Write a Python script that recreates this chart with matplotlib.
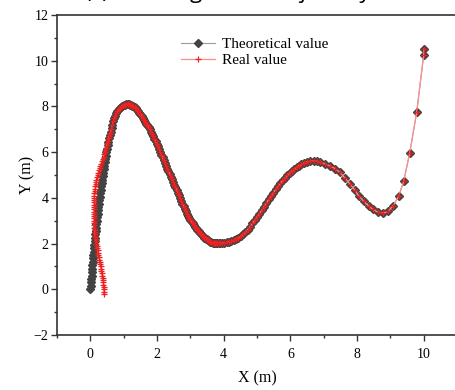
import matplotlib.pyplot as plt

# Theoretical trajectory
# steep rise, from the origin up to the first peak
rise_x = [0.00, 0.01, 0.02, 0.03, 0.04, 0.045, 0.05, 0.06, 0.07, 0.08, 0.09, 0.10,
          0.11, 0.12, 0.13, 0.14, 0.15, 0.16, 0.17, 0.18, 0.19, 0.205, 0.22, 0.23,
          0.24, 0.255, 0.27, 0.28, 0.29, 0.305, 0.32, 0.335, 0.35, 0.365, 0.38,
          0.395, 0.41, 0.43, 0.45, 0.465, 0.48, 0.50, 0.52, 0.54, 0.56, 0.585, 0.61,
          0.635, 0.66, 0.69, 0.72, 0.75, 0.78, 0.815, 0.85, 0.885, 0.92, 0.96, 1.00,
          1.04, 1.08, 1.115]
rise_y = [0.00, 0.15, 0.30, 0.45, 0.60, 0.75, 0.90, 1.05, 1.20, 1.35, 1.50, 1.65,
          1.80, 1.95, 2.10, 2.25, 2.40, 2.55, 2.70, 2.85, 3.00, 3.15, 3.30, 3.45,
          3.60, 3.75, 3.90, 4.05, 4.20, 4.35, 4.50, 4.65, 4.80, 4.95, 5.10,
          5.25, 5.40, 5.55, 5.70, 5.85, 6.00, 6.15, 6.30, 6.45, 6.60, 6.75, 6.90,
          7.05, 7.20, 7.35, 7.48, 7.60, 7.70, 7.80, 7.88, 7.94, 7.99, 8.03, 8.06,
          8.08, 8.09, 8.09]
# descent from the first peak to the valley near x = 3.9
fall_x = [1.15, 1.185, 1.22, 1.255, 1.29, 1.325, 1.36, 1.395, 1.43, 1.465, 1.50,
          1.535, 1.57, 1.605, 1.64, 1.675, 1.71, 1.745, 1.78, 1.815, 1.85, 1.885,
          1.92, 1.955, 1.99, 2.025, 2.06, 2.095, 2.13, 2.165, 2.20, 2.235, 2.27,
          2.305, 2.34, 2.375, 2.41, 2.445, 2.48, 2.515, 2.55, 2.585, 2.62, 2.655,
          2.69, 2.725, 2.76, 2.795, 2.83, 2.865, 2.90, 2.935, 2.97, 3.005, 3.04,
          3.075, 3.11, 3.145, 3.18, 3.215, 3.25, 3.285, 3.32, 3.355, 3.39, 3.425,
          3.46, 3.495, 3.53, 3.565, 3.60, 3.635, 3.67, 3.705, 3.74, 3.775, 3.81,
          3.845]
fall_y = [8.09, 8.08, 8.06, 8.03, 8.00, 7.96, 7.91, 7.85, 7.79, 7.73, 7.66,
          7.58, 7.50, 7.42, 7.33, 7.25, 7.17, 7.09, 7.00, 6.90, 6.80, 6.70,
          6.59, 6.48, 6.37, 6.25, 6.13, 6.01, 5.89, 5.77, 5.64, 5.52, 5.40,
          5.28, 5.16, 5.05, 4.93, 4.81, 4.69, 4.58, 4.46, 4.35, 4.23, 4.12,
          4.00, 3.88, 3.75, 3.64, 3.52, 3.41, 3.30, 3.21, 3.12, 3.04, 2.96,
          2.88, 2.81, 2.74, 2.67, 2.60, 2.54, 2.48, 2.42, 2.36, 2.31, 2.26,
          2.22, 2.18, 2.14, 2.11, 2.08, 2.06, 2.04, 2.03, 2.02, 2.015, 2.01,
          2.01]
# second hump and the final climb
tail_x = [3.88, 3.95, 4.02, 4.09, 4.16, 4.23, 4.30, 4.37, 4.44, 4.51, 4.58, 4.65,
          4.72, 4.79, 4.86, 4.93, 5.00, 5.07, 5.14, 5.21, 5.28, 5.35, 5.42, 5.49,
          5.56, 5.63, 5.70, 5.77, 5.84, 5.91, 5.98, 6.05, 6.12, 6.19, 6.26, 6.33,
          6.40, 6.50, 6.60, 6.70, 6.80, 6.90, 7.04, 7.19, 7.34, 7.49, 7.63, 7.78,
          7.93, 8.05, 8.20, 8.35, 8.47, 8.62, 8.77, 8.93, 9.07, 9.25, 9.40, 9.58,
          9.79, 10.00, 10.01]
tail_y = [2.01, 2.02, 2.03, 2.05, 2.07, 2.10, 2.14, 2.19, 2.25, 2.32, 2.40, 2.50,
          2.61, 2.74, 2.88, 3.02, 3.17, 3.31, 3.46, 3.62, 3.77, 3.93, 4.08, 4.23,
          4.37, 4.51, 4.64, 4.76, 4.88, 4.99, 5.09, 5.18, 5.27, 5.34, 5.41, 5.47,
          5.52, 5.57, 5.60, 5.61, 5.60, 5.57, 5.49, 5.40, 5.28, 5.11, 4.88, 4.62,
          4.35, 4.09, 3.85, 3.64, 3.50, 3.38, 3.33, 3.41, 3.63, 4.07, 4.72, 5.95,
          7.74, 10.24, 10.52]
theo_x = rise_x + fall_x + tail_x
theo_y = rise_y + fall_y + tail_y

# Real trajectory: its own start, then it lies on the theoretical points
real_start_x = [0.400, 0.400, 0.400, 0.395, 0.390, 0.383, 0.375, 0.365, 0.355,
                0.343, 0.330, 0.318, 0.305, 0.293, 0.280, 0.268, 0.255, 0.243,
                0.230, 0.218, 0.205, 0.193, 0.180, 0.170, 0.160, 0.150, 0.140,
                0.132, 0.125, 0.120, 0.115, 0.110, 0.105, 0.102, 0.100, 0.100,
                0.100, 0.100, 0.100, 0.102, 0.105, 0.108, 0.110, 0.115, 0.120,
                0.128, 0.135, 0.145, 0.155, 0.168, 0.180, 0.197, 0.215, 0.235,
                0.255, 0.278, 0.300, 0.325, 0.350, 0.375, 0.400, 0.415, 0.430,
                0.450, 0.470, 0.490, 0.510, 0.530, 0.550, 0.570, 0.590, 0.610,
                0.630]
real_start_y = [-0.20, -0.10, 0.00, 0.10, 0.20, 0.30, 0.40, 0.50, 0.60,
                0.70, 0.80, 0.90, 1.00, 1.10, 1.20, 1.30, 1.40, 1.50,
                1.60, 1.70, 1.80, 1.90, 2.00, 2.10, 2.20, 2.30, 2.40,
                2.50, 2.60, 2.70, 2.80, 2.90, 3.00, 3.10, 3.20, 3.30,
                3.40, 3.50, 3.60, 3.70, 3.80, 3.90, 4.00, 4.10, 4.20,
                4.30, 4.40, 4.50, 4.60, 4.70, 4.80, 4.90, 5.00, 5.10,
                5.20, 5.30, 5.40, 5.50, 5.60, 5.70, 5.80, 5.90, 6.00,
                6.10, 6.20, 6.30, 6.40, 6.50, 6.60, 6.70, 6.80, 6.90,
                7.00]
real_x = real_start_x + theo_x[48:]
real_y = real_start_y + theo_y[48:]

plt.rcParams["font.family"] = "Liberation Serif"

fig = plt.figure(figsize=(4.55, 3.9), dpi=100)
ax = fig.add_axes([57 / 455, 1 - 335 / 390, 400 / 455, 320 / 390])

ax.plot(theo_x, theo_y, color="#9a9a9a", lw=0.8, marker="D", ms=4.2,
        mfc="#434343", mec="#434343", label="Theoretical value", zorder=2)
ax.plot(real_x, real_y, color="#ff8f8f", lw=0.9, marker="+", ms=4.5, mew=0.9,
        mec="#f02020", label="Real value", zorder=3)

ax.set_xlim(-1, 11)
ax.set_ylim(-2, 12)
ax.set_xticks([0, 2, 4, 6, 8, 10])
ax.set_xticks([-1, 1, 3, 5, 7, 9, 11], minor=True)
ax.set_yticks([-2, 0, 2, 4, 6, 8, 10, 12])
ax.set_yticks([-1, 1, 3, 5, 7, 9, 11], minor=True)
ax.tick_params(which="major", direction="out", length=4, width=1, labelsize=10,
               color="#333333", pad=2)
ax.tick_params(which="minor", direction="out", length=2.5, width=1, color="#333333")
ax.tick_params(axis="x", pad=5)
for sp in ax.spines.values():
    sp.set_linewidth(1.2)
    sp.set_color("#333333")
ax.spines["right"].set_visible(False)

ax.set_xlabel("X (m)", fontsize=11.5, labelpad=7)
ax.set_ylabel("Y (m)", fontsize=11.5, labelpad=-1)

ax.legend(loc="upper left", bbox_to_anchor=(0.31, 0.93), frameon=False,
          fontsize=11, handlelength=2.2, handletextpad=0.5, borderpad=0,
          borderaxespad=0, labelspacing=0.15)

# title, cut off by the top edge of the picture
fig.text(85 / 455, 1 + 2 / 390, "(c) Tracking curve trajectory", family="Open Sans",
         fontsize=16, va="baseline", ha="left")

fig.savefig("out.png", dpi=100)
